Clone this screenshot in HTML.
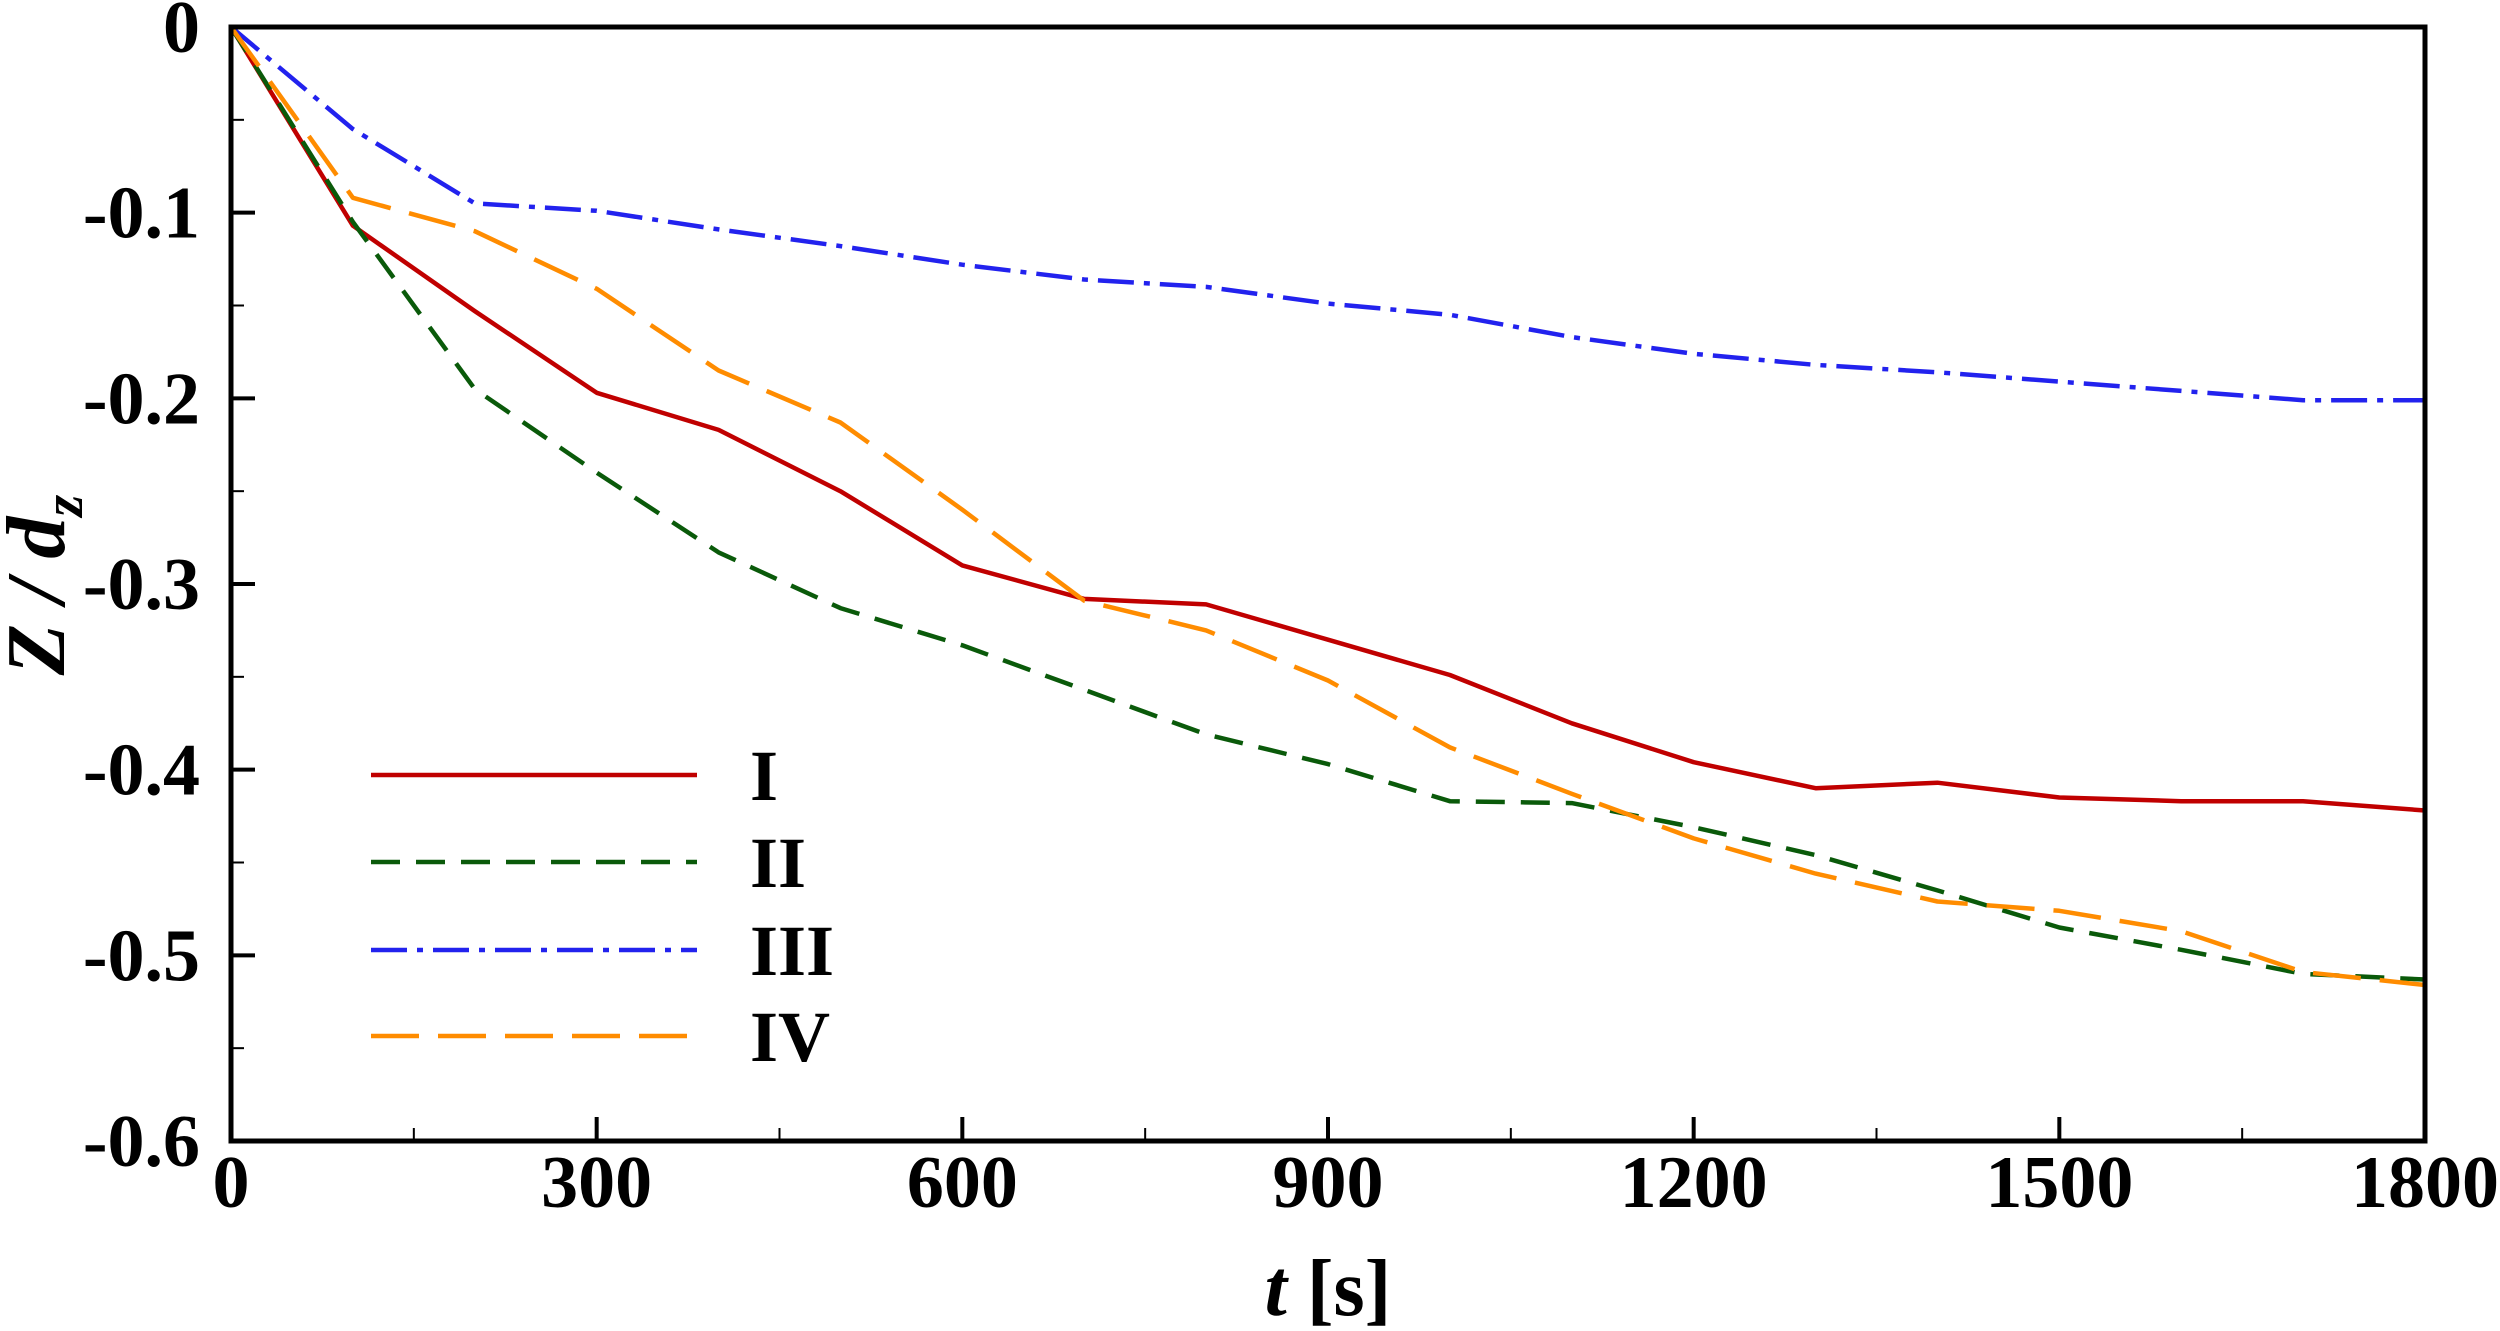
<!DOCTYPE html>
<html><head><meta charset="utf-8"><style>
html,body{margin:0;padding:0;background:#fff;}
svg text{font-family:"Liberation Serif",serif;font-weight:bold;}
</style></head><body>
<svg id="chart" width="2500" height="1326" viewBox="0 0 2500 1326" xmlns="http://www.w3.org/2000/svg">
<g id="series"></g>
<g id="axes"></g>
<g id="legend"></g>
</svg>
<script>
const times = [0,100,200,300,400,500,600,700,800,900,1000,1100,1200,1300,1400,1500,1600,1700,1800];
const seriesI = [0,-0.107,-0.153,-0.197,-0.217,-0.25,-0.29,-0.308,-0.311,-0.33,-0.349,-0.375,-0.396,-0.41,-0.407,-0.415,-0.417,-0.417,-0.422];
const seriesII = [0,-0.105,-0.195,-0.24,-0.283,-0.313,-0.333,-0.357,-0.381,-0.397,-0.417,-0.418,-0.431,-0.446,-0.465,-0.485,-0.497,-0.51,-0.513];
const seriesIII = [0,-0.055,-0.095,-0.099,-0.109,-0.118,-0.128,-0.136,-0.14,-0.149,-0.155,-0.167,-0.176,-0.182,-0.186,-0.191,-0.196,-0.201,-0.201];
const seriesIV = [0,-0.092,-0.11,-0.141,-0.185,-0.213,-0.26,-0.309,-0.325,-0.352,-0.388,-0.413,-0.437,-0.456,-0.471,-0.476,-0.487,-0.509,-0.516];
const seriesNames = ["I","II","III","IV"];
const xTicks = [0,300,600,900,1200,1500,1800];
const yTicks = [0,-0.1,-0.2,-0.3,-0.4,-0.5,-0.6];
const xTickLabels = ["0","300","600","900","1200","1500","1800"];
const yTickLabels = ["0","-0.1","-0.2","-0.3","-0.4","-0.5","-0.6"];

const L=231,R=2425,T=27,B=1141;
const X=v=>L+(v-0)/1800*(R-L);
const Y=v=>T+(0-v)/0.6*(B-T);
const NS="http://www.w3.org/2000/svg";
function mk(tag,attrs,parent){const e=document.createElementNS(NS,tag);for(const k in attrs)e.setAttribute(k,attrs[k]);parent.appendChild(e);return e;}

const styles=[
 {color:"#c00000",dash:"",name:"series-i-line"},
 {color:"#0a5a0a",dash:"29 16",name:"series-ii-line"},
 {color:"#2222ee",dash:"36 10 6 10",name:"series-iii-line"},
 {color:"#ff8c00",dash:"48 19",name:"series-iv-line"}
];
const data=[seriesI,seriesII,seriesIII,seriesIV];
const sg=document.getElementById('series');
data.forEach((s,i)=>{
  const pts=s.map((v,j)=>X(times[j]).toFixed(1)+","+Y(v).toFixed(1)).join(" ");
  const p=mk('polyline',{points:pts,fill:"none",stroke:styles[i].color,"stroke-width":4.5,"stroke-dasharray":styles[i].dash,"stroke-linejoin":"round"},sg);
  
  
});

const ag=document.getElementById('axes');
const frame=mk('rect',{x:L,y:T,width:R-L,height:B-T,fill:"none",stroke:"#000","stroke-width":5},ag);


for(let v=0;v<=1800;v+=150){
  const major=v%300===0;
  const t=mk('line',{x1:X(v),x2:X(v),y1:B,y2:B-(major?24:13),stroke:"#000","stroke-width":major?4:2},ag);
  
  
}
for(let k=0;k<=12;k++){
  const v=-k*0.05;const major=k%2===0;
  const t=mk('line',{x1:L,x2:L+(major?24:13),y1:Y(v),y2:Y(v),stroke:"#000","stroke-width":major?4:2},ag);
  
  
}
xTicks.forEach((v,i)=>{
  const t=mk('text',{x:X(v),y:1207,"font-size":74,"text-anchor":"middle"},ag);
  t.textContent=xTickLabels[i];
  
  
});
yTicks.forEach((v,i)=>{
  const t=mk('text',{x:200,y:Y(v)+25,"font-size":74,"text-anchor":"end"},ag);
  t.textContent=yTickLabels[i];
  
  
});
const xt=mk('text',{x:1328,y:1315,"font-size":80,"text-anchor":"middle"},ag);
xt.innerHTML='<tspan font-style="italic">t</tspan> [s]';


const yt=mk('text',{x:0,y:0,"font-size":84,"text-anchor":"middle","font-style":"italic",transform:"translate(64,585) rotate(-90)"},ag);
yt.innerHTML='Z / d<tspan font-size="56" dy="18">z</tspan>';



const lg=document.getElementById('legend');
const ly=[775,862,950,1036];
seriesNames.forEach((n,i)=>{
  const l=mk('line',{x1:371,x2:697,y1:ly[i],y2:ly[i],stroke:styles[i].color,"stroke-width":4.5,"stroke-dasharray":styles[i].dash},lg);
  
  
  const t=mk('text',{x:750,y:ly[i]+25,"font-size":72},lg);
  t.textContent=n;
  
  
});
</script>
</body></html>
